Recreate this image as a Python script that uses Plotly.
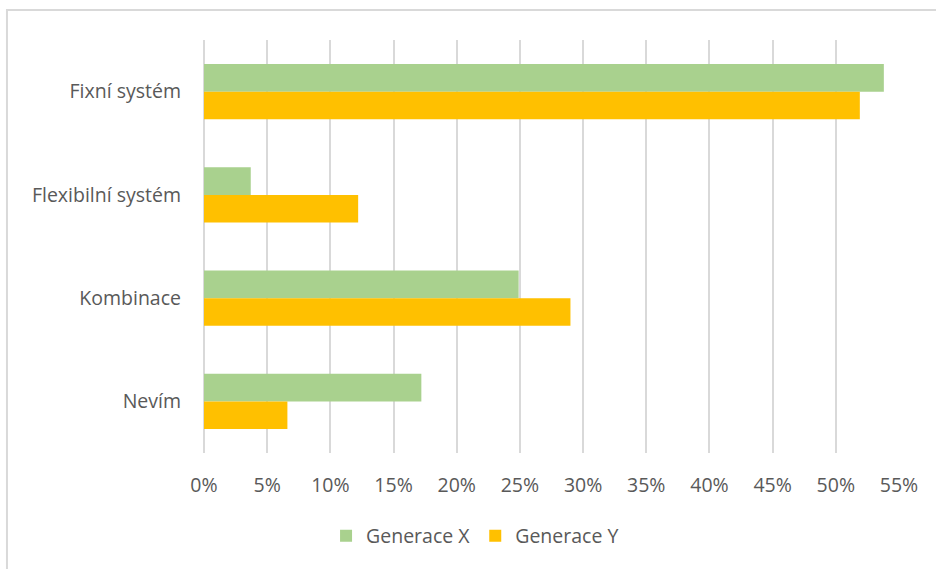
import plotly.graph_objects as go

categories = ["Fixní systém", "Flexibilní systém", "Kombinace", "Nevím"]
gen_x = [0.538, 0.037, 0.249, 0.172]
gen_y = [0.519, 0.122, 0.290, 0.066]

GREEN = "#a9d18e"
GOLD = "#ffc000"
FONT = dict(family="Open Sans, sans-serif", size=19.5, color="#595959")

fig = go.Figure()
fig.add_trace(go.Bar(y=categories, x=gen_x, name="Generace X", orientation="h",
                     marker=dict(color=GREEN, line=dict(width=0))))
fig.add_trace(go.Bar(y=categories, x=gen_y, name="Generace Y", orientation="h",
                     marker=dict(color=GOLD, line=dict(width=0))))

fig.update_layout(
    width=936, height=569,
    margin=dict(l=204, r=37, t=40, b=116),
    paper_bgcolor="white", plot_bgcolor="white",
    font=FONT,
    barmode="group", bargap=0.466, bargroupgap=0,
    showlegend=True,
    legend=dict(orientation="h",
                x=0.39, xanchor="center", y=-0.201, yanchor="middle",
                font=dict(size=19.5, color="#595959"), itemwidth=30),
    xaxis=dict(range=[0, 0.55], dtick=0.05, tickformat=".0%",
               showgrid=True, gridcolor="#d9d9d9", gridwidth=2,
               zeroline=True, zerolinecolor="#d9d9d9", zerolinewidth=2,
               showline=False, ticks="", ticklabelstandoff=18, fixedrange=True),
    yaxis=dict(autorange="reversed", showgrid=False, showline=False,
               ticks="", ticklabelstandoff=22),
    shapes=[dict(type="rect", xref="paper", yref="paper",
                 x0=-0.2835, x1=1.1, y0=-0.35, y1=1.0726,
                 line=dict(color="#d9d9d9", width=2), fillcolor="rgba(0,0,0,0)",
                 layer="below")],
)

fig.write_html("out.html", config={"displayModeBar": False},
               post_script="document.body.style.margin='0';")
